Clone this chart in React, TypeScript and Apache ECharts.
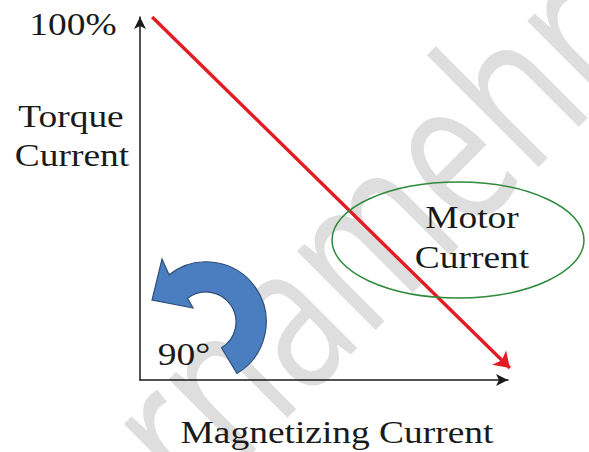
import React, { useEffect, useRef } from "react";
import * as echarts from "echarts";

// ---- data ----
const axisRange = [0, 100];
const lineX = [3.3, 100.5];
const lineY = [100, 3.3];
const yTopLabel = "100%";
const yTitleLines = ["Torque", "Current"];
const xTitle = "Magnetizing Current";
const ellipseLines = ["Motor", "Current"];
const angleLabel = "90°";
const watermark = "Darnamehr";

const ARROW_D =
  "M 236.9 373.4 A 60 60 0 1 0 169.1 274.7 L 162 259 L 152 300 L 193 308 L 187.5 298.4 A 30 30 0 1 1 221.5 347.7 Z";

let registered = false;

export default function App() {
  const ref = useRef<HTMLDivElement>(null);
  useEffect(() => {
    if (!registered) {
      echarts.graphic.registerShape("blueArrow", echarts.graphic.extendPath(ARROW_D, {}) as any);
      registered = true;
    }
    const chart = echarts.init(ref.current!, null, { renderer: "svg" });
    const serif = "Liberation Serif";
    const sx = 1.17;
    const txt = (text: string, x: number, y: number, z = 10) => ({
      type: "text",
      x,
      y,
      scaleX: sx,
      z,
      style: {
        text,
        x: 0,
        y: 0,
        align: "center",
        verticalAlign: "middle",
        fontFamily: serif,
        fontSize: 32,
        fill: "#1a1a1a",
      },
    });
    chart.setOption({
      animation: false,
      backgroundColor: "#ffffff",
      grid: { left: 140, top: 17, width: 368, height: 363 },
      xAxis: {
        type: "value",
        min: axisRange[0],
        max: axisRange[1],
        axisLine: {
          show: true,
          symbol: ["none", "arrow"],
          symbolSize: [9, 12],
          lineStyle: { color: "#1a1a1a", width: 1.5 },
        },
        axisTick: { show: false },
        axisLabel: { show: false },
        splitLine: { show: false },
      },
      yAxis: {
        type: "value",
        min: axisRange[0],
        max: axisRange[1],
        axisLine: {
          show: true,
          symbol: ["none", "arrow"],
          symbolSize: [9, 12],
          lineStyle: { color: "#1a1a1a", width: 1.5 },
        },
        axisTick: { show: false },
        axisLabel: { show: false },
        splitLine: { show: false },
      },
      series: [
        {
          type: "lines",
          coordinateSystem: "cartesian2d",
          clip: false,
          symbol: ["none", "arrow"],
          symbolSize: 15,
          z: 5,
          lineStyle: { color: "#e31b23", width: 3.4, opacity: 1 },
          data: [
            {
              coords: [
                [lineX[0], lineY[0]],
                [lineX[1], lineY[1]],
              ],
            },
          ],
        },
      ],
      graphic: [
        {
          type: "text",
          x: -4,
          y: 595.5,
          rotation: Math.PI / 4,
          scaleY: 1.34,
          z: -10,
          silent: true,
          style: {
            text: watermark,
            x: 0,
            y: 0,
            align: "left",
            verticalAlign: "middle",
            fontFamily: "Open Sans",
            fontSize: 155,
            fill: "#dedede",
          },
        },
        txt(yTopLabel, 73, 24),
        txt(yTitleLines[0], 71, 116),
        txt(yTitleLines[1], 72, 155),
        txt(ellipseLines[0], 472, 217),
        txt(ellipseLines[1], 472, 257),
        txt(angleLabel, 184, 354),
        txt(xTitle, 337, 432),
        {
          type: "ellipse",
          z: 8,
          shape: { cx: 458, cy: 240, rx: 126, ry: 58 },
          style: { fill: "none", stroke: "#2f8a3c", lineWidth: 1.5 },
        },
        {
          type: "blueArrow",
          x: 0,
          y: 0,
          z: 9,
          style: { fill: "#4a7ec0", stroke: "#2f4f78", lineWidth: 1.2 },
        },
      ],
    });
    return () => chart.dispose();
  }, []);
  return (
    <div
      ref={ref}
      style={{ position: "fixed", left: 0, top: 0, width: 589, height: 452 }}
    />
  );
}
